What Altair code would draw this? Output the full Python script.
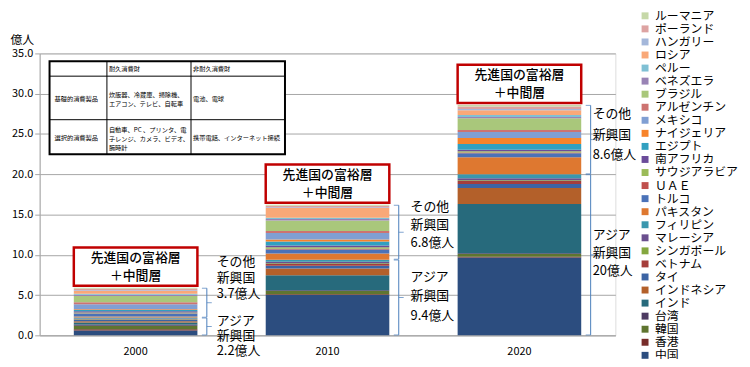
import altair as alt
import pandas as pd

years = ["2000", "2010", "2020"]
countries = ["中国", "香港", "韓国", "台湾", "インド", "インドネシア", "タイ", "ベトナム",
             "シンガポール", "マレーシア", "フィリピン",
             "パキスタン", "トルコ", "ＵＡＥ", "サウジアラビア", "南アフリカ", "エジプト",
             "ナイジェリア", "メキシコ", "アルゼンチン", "ブラジル", "ベネズエラ", "ペルー",
             "ロシア", "ハンガリー", "ポーランド", "ルーマニア"]
n_asia = 11
values_2000 = [0.6, 0.15, 0.45, 0.15, 0.25, 0.15, 0.15, 0.05, 0.05, 0.1, 0.1,
               0.15, 0.35, 0.05, 0.1, 0.15, 0.15, 0.1, 0.6, 0.25, 0.8, 0.15, 0.1, 0.35, 0.1, 0.2, 0.1]
values_2010 = [5.0, 0.1, 0.4, 0.1, 1.85, 0.85, 0.35, 0.2, 0.1, 0.2, 0.25,
               0.75, 0.5, 0.1, 0.2, 0.2, 0.5, 0.25, 0.8, 0.25, 1.3, 0.2, 0.15, 1.2, 0.1, 0.2, 0.1]
values_2020 = [9.65, 0.1, 0.35, 0.1, 6.1, 2.0, 0.5, 0.35, 0.1, 0.25, 0.5,
               2.1, 0.5, 0.1, 0.15, 0.2, 0.7, 0.75, 0.75, 0.25, 1.45, 0.15, 0.25, 0.6, 0.15, 0.3, 0.2]
asia_labels = ["アジア\n新興国\n2.2億人", "アジア\n新興国\n9.4億人", "アジア\n新興国\n20億人"]
other_labels = ["その他\n新興国\n3.7億人", "その他\n新興国\n6.8億人", "その他\n新興国\n8.6億人"]
box_label = "先進国の富裕層\n＋中間層"
colors = ["#2C4D7F", "#772C2A", "#5F7530", "#4D3B62", "#276A7C", "#B3602A", "#3C64A4", "#A53E3B",
          "#84A73F", "#6A4F8E", "#3A97AE",
          "#DE7830", "#4A72B8", "#C0504D", "#9BBB59", "#6B4C9A", "#31A0C0", "#F7832A",
          "#809FD3", "#CD7371", "#A9C77B", "#9983B5", "#7FC0D4", "#F9A878", "#A4B7DA",
          "#DDA3A2", "#C6D8A8"]

table_header = ["耐久消費財", "非耐久消費財"]
table_rows = [
    ["基礎的消費製品", "炊飯器、冷蔵庫、掃除機、\nエアコン、テレビ、自転車", "電池、電球"],
    ["選択的消費製品", "自動車、PC 、プリンタ、電\n子レンジ、カメラ、ビデオ、\n腕時計", "携帯電話、インターネット接続"],
]

FONT = "Noto Sans CJK JP"
all_vals = [values_2000, values_2010, values_2020]

rows = []
for y, vals in zip(years, all_vals):
    for i, (c, v) in enumerate(zip(countries, vals)):
        rows.append({"year": y, "country": c, "value": v, "idx": i})
df = pd.DataFrame(rows)

tot_rows = []
grp_rows = []
for k, (y, vals) in enumerate(zip(years, all_vals)):
    asia = sum(vals[:n_asia])
    total = sum(vals)
    tot_rows.append({"year": y, "total": total})
    grp_rows.append({"year": y, "lo": 0.0, "hi": asia, "label": asia_labels[k], "grp": "asia", "k": k})
    grp_rows.append({"year": y, "lo": asia, "hi": total, "label": other_labels[k], "grp": "other", "k": k})
tot = pd.DataFrame(tot_rows)
grp = pd.DataFrame(grp_rows)
grp["mid"] = (grp["lo"] + grp["hi"]) / 2
grp["lo_in"] = grp["lo"] + 0.05
grp["hi_in"] = grp["hi"] - 0.05

xs = alt.X("year:N", scale=alt.Scale(paddingInner=0.356, paddingOuter=0.178),
           axis=alt.Axis(title=None, labelAngle=0, ticks=False, labelPadding=10, labelFontSize=11,
                         domainColor="#A6A6A6", labelColor="#000", labelFont=FONT))
yscale = alt.Scale(domain=[0, 35])

bars = alt.Chart(df).mark_bar().encode(
    x=xs,
    y=alt.Y("value:Q", stack="zero", scale=yscale,
            axis=alt.Axis(values=list(range(0, 36, 5)), format=".1f", title="億人", titleAngle=0,
                          titleX=-18, titleY=-14, titleAlign="center", titleBaseline="middle",
                          titleFontSize=12, titleFontWeight="normal", titleFont=FONT, titleColor="#000",
                          labelFontSize=11, labelColor="#000", labelFont=FONT, labelPadding=2,
                          grid=True, gridColor="#A6A6A6", tickColor="#A6A6A6", tickSize=5,
                          domainColor="#A6A6A6")),
    color=alt.Color("country:N",
                    scale=alt.Scale(domain=countries[::-1], range=colors[::-1]),
                    legend=alt.Legend(title=None, orient="none", legendX=606, legendY=-44,
                                      symbolType="square", symbolSize=49, symbolStrokeWidth=0,
                                      labelFontSize=12, labelFont=FONT, labelColor="#000",
                                      rowPadding=1.2, labelLimit=200, symbolLimit=40)),
    order=alt.Order("idx:Q", sort="ascending"),
)

box = alt.Chart(tot).transform_calculate(
    b0="datum.total + 0.25", b1="datum.total + 5.0", bm="datum.total + 2.6"
)
boxes = box.mark_rect(fill="white", stroke="#C00000", strokeWidth=2.5).encode(
    x="year:N", y="b0:Q", y2="b1:Q")
box_text = box.mark_text(lineBreak="\n", fontSize=13, lineHeight=18, font=FONT, color="#000",
                         fontWeight=500, dy=-9).encode(
    x="year:N", y="bm:Q", text=alt.value(box_label))

BR = "#4A7EBB"
base_g = alt.Chart(grp)
brace_v = base_g.mark_rule(xOffset=72, color=BR, strokeWidth=1).encode(
    x="year:N", y="lo_in:Q", y2="hi_in:Q")
brace_lo = base_g.mark_tick(xOffset=69.5, size=5, thickness=1, color=BR).encode(x="year:N", y="lo_in:Q")
brace_hi = base_g.mark_tick(xOffset=69.5, size=5, thickness=1, color=BR).encode(x="year:N", y="hi_in:Q")
brace_m = base_g.mark_tick(xOffset=74.5, size=5, thickness=1, color=BR).encode(x="year:N", y="mid:Q")

label_dx = [82, 84, 74]
# (group, year index): (dy of first line, line height)
label_pos = {("asia", 0): (-5, 15), ("other", 0): (-41, 16), ("asia", 1): (-21, 20),
             ("other", 1): (-25, 18), ("asia", 2): (-20, 18), ("other", 2): (-26, 21)}
label_layers = []
for (g, k), (dy, lh) in label_pos.items():
    label_layers.append(
        alt.Chart(grp[(grp.grp == g) & (grp.k == k)]).mark_text(
            align="left", baseline="middle", lineBreak="\n", fontSize=13, lineHeight=lh,
            font=FONT, color="#000", xOffset=label_dx[k], dy=dy
        ).encode(x="year:N", y="mid:Q", text="label:N")
    )

# decorative table (pixel positions inside plot area)
one = pd.DataFrame({"a": [0]})
tl, c1, c2, tr = 10, 68, 153, 248
tt, r1, r2, tb = 8, 23, 67, 102
tbl = [alt.Chart(one).mark_rect(fill="white", stroke="#000", strokeWidth=2).encode(
    x=alt.value(tl), x2=alt.value(tr), y=alt.value(tt), y2=alt.value(tb))]
for cx in (c1, c2):
    tbl.append(alt.Chart(one).mark_rule(color="#000", strokeWidth=1).encode(
        x=alt.value(cx), y=alt.value(tt), y2=alt.value(tb)))
for ry in (r1, r2):
    tbl.append(alt.Chart(one).mark_rule(color="#000", strokeWidth=1).encode(
        x=alt.value(tl), x2=alt.value(tr), y=alt.value(ry)))
cell_x = [tl + 5, c1 + 2, c2 + 2]
cell_y = [[46, 42, 46], [86, 77.5, 86]]
for j, h in enumerate(table_header):
    tbl.append(alt.Chart(one).mark_text(align="left", baseline="middle", fontSize=6.3, font=FONT,
                                        color="#000").encode(
        x=alt.value(cell_x[j + 1]), y=alt.value((tt + r1) / 2), text=alt.value(h)))
for i, row in enumerate(table_rows):
    for j, t in enumerate(row):
        tbl.append(alt.Chart(one).mark_text(align="left", baseline="middle", fontSize=6.3, font=FONT,
                                            color="#000", lineBreak="\n", lineHeight=9).encode(
            x=alt.value(cell_x[j]), y=alt.value(cell_y[i][j]), text=alt.value(t)))

chart = alt.layer(
    bars, boxes, box_text, brace_v, brace_lo, brace_hi, brace_m, *label_layers, *tbl
).properties(
    width=582, height=285,
    title=alt.TitleParams("新興国の中間所得層", fontSize=18, fontWeight="bold", font=FONT,
                          anchor="middle", dx=24, offset=14, color="#000"),
    autosize=alt.AutoSizeParams(type="none"),
    padding={"left": 32, "top": 44, "right": 128, "bottom": 22},
).configure_view(stroke=None).configure(font=FONT)

chart.save("out.html", embed_options={"renderer": "svg", "actions": False})
